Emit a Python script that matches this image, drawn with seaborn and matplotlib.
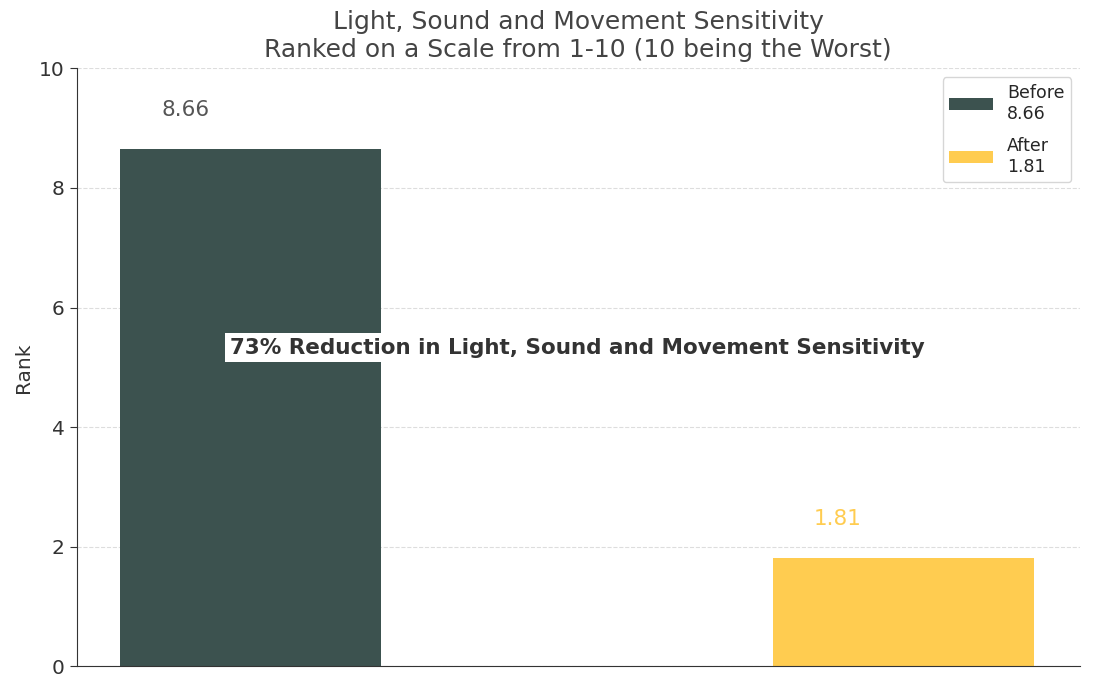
import matplotlib
matplotlib.use("Agg")
import matplotlib.pyplot as plt
import seaborn as sns
import pandas as pd

# Data
phases = ["Before", "After"]
ranks = [8.66, 1.81]
colors = ["#3C524F", "#FFCC50"]
label_colors = ["#555555", "#FFCC50"]

sns.set_style("white")
plt.rcParams['font.family'] = ['DejaVu Sans']

df = pd.DataFrame({"Phase": phases, "Rank": ranks})

fig, ax = plt.subplots(figsize=(10.93, 6.84), dpi=100)
sns.barplot(data=df, x="Phase", y="Rank", hue="Phase", palette=colors,
            width=0.4, legend=False, ax=ax, saturation=1, linewidth=0)

# value labels above bars
for i, (v, c) in enumerate(zip(ranks, label_colors)):
    ax.text(i - 0.1, v + 0.48, f"{v:.2f}", ha="center", va="bottom",
            fontsize=15.5, color=c)

ax.text(0.5, 5.33, "73% Reduction in Light, Sound and Movement Sensitivity",
        ha="center", va="center", fontsize=15.5, fontweight="bold", color="#333333",
        bbox=dict(facecolor="white", edgecolor="none", pad=3))

ax.set_ylim(0, 10)
ax.set_xlim(-0.267, 1.271)
ax.set_xticks([])
ax.set_xlabel("")
ax.set_ylabel("Rank", fontsize=14.5, color="#333333")
ax.tick_params(axis="y", labelsize=14.5, colors="#333333", length=5, left=True)
ax.set_title("Light, Sound and Movement Sensitivity\nRanked on a Scale from 1-10 (10 being the Worst)",
             fontsize=18, color="#444444", pad=8)
ax.yaxis.grid(True, linestyle="--", color="#dddddd", linewidth=0.8)
ax.set_axisbelow(True)
sns.despine(ax=ax)
for s in ["left", "bottom"]:
    ax.spines[s].set_color("#333333")

ax.legend(handles=ax.patches[:2], labels=[f"{p}\n{v:.2f}" for p, v in zip(phases, ranks)],
          loc="upper right", fontsize=12.5, frameon=True, labelspacing=0.8,
          handlelength=2.5)

plt.subplots_adjust(left=0.07, right=0.988, top=0.9, bottom=0.026)
plt.savefig("out.png", dpi=100)
